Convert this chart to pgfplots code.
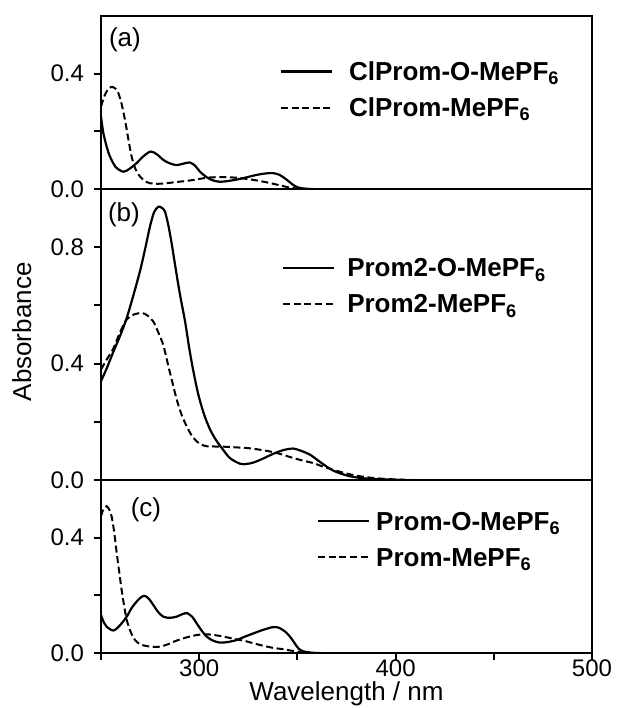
\documentclass[border=0pt]{standalone}
\usepackage{fontspec}
\setmainfont{Liberation Sans}
\usepackage{pgfplots}
\pgfplotsset{compat=1.18}
\pgfplotsset{
  panel/.style={
    scale only axis, width=245.5pt,
    xmin=250, xmax=500, ymin=0,
    axis line style={line width=1.4pt},
    tick align=outside, tick pos=left,
    major tick length=3.5pt, minor tick length=3.5pt,
    every tick/.style={black, line width=1pt},
    every minor tick/.style={black, line width=1pt},
    tick label style={font=\fontsize{12}{14}\selectfont},
    yticklabel style={xshift=-1.5pt, /pgf/number format/.cd, fixed, fixed zerofill, precision=1, assume math mode=true},
    xticklabel style={yshift=3.5pt, /pgf/number format/.cd, fixed, precision=0, assume math mode=true},
  },
  solidc/.style={black, line width=1.1pt, smooth, tension=0.5},
  dashc/.style={black, line width=1pt, dash pattern=on 3.5pt off 1.8pt, smooth, tension=0.5},
  leg/.style={
    legend image code/.code={\draw[##1] (0pt,0pt) -- (25.5pt,0pt);},
    legend cell align=left,
    legend style={draw=none, fill=none, inner sep=0pt, outer sep=0pt, anchor=west,
      font=\fontsize{13}{15.6}\selectfont\bfseries, row sep=4pt,
      nodes={inner sep=0pt, text height=11.5pt, text depth=2.5pt},
      /tikz/every odd column/.append style={column sep=#1}},
  },
}
\begin{document}
\begin{tikzpicture}
\useasboundingbox (0,0) rectangle (309.5pt,354pt);
% panel (a)
\begin{axis}[panel, at={(50.5pt,259.5pt)}, anchor=south west, height=86.5pt,
  ymax=0.6, ytick={0,0.4}, minor ytick={0.2}, xtick=\empty,
  leg=8pt, legend style={at={(axis cs:341.1,0.345)}}]
\addplot[solidc] coordinates {
(250,0.251) (251.2,0.194) (252.9,0.147) (254.6,0.112) (257.5,0.076) (261.4,0.060)
(264.5,0.070) (268,0.089) (271.5,0.113) (275.3,0.130) (278.5,0.120) (281.7,0.101)
(285,0.089) (288.5,0.083) (292,0.088) (295.3,0.092) (298,0.080) (300.4,0.060)
(304,0.040) (307,0.030) (310.6,0.025) (315,0.028) (320.8,0.035) (325,0.042)
(329.3,0.049) (334,0.054) (337.7,0.055) (340.5,0.050) (342.8,0.041) (345.5,0.027)
(347.9,0.014) (350.5,0.005) (354,0.001) (358,0)};
\addlegendentry{ClProm-O-MePF\textsubscript{6}}
\addplot[dashc] coordinates {
(250,0.286) (252,0.327) (254,0.349) (255.8,0.354) (257.5,0.347) (258.8,0.333)
(260.5,0.295) (262.2,0.240) (264,0.170) (265.6,0.112) (267.5,0.070) (269.9,0.043)
(272.5,0.027) (275,0.020) (279,0.018) (283.4,0.020) (288,0.024) (293.6,0.028)
(298.5,0.033) (303.8,0.039) (309,0.041) (314,0.041) (319,0.039) (324.2,0.035)
(329,0.030) (334.4,0.023) (339,0.016) (342.8,0.010) (346,0.005) (349.6,0.002) (355,0)};
\addlegendentry{ClProm-MePF\textsubscript{6}}
\node[font=\fontsize{13}{15.6}\selectfont] at (axis cs:262.2,0.517) {(a)};
\end{axis}
% panel (b)
\begin{axis}[panel, at={(50.5pt,114pt)}, anchor=south west, height=145.5pt,
  ymax=1.0, ytick={0,0.4,0.8}, minor ytick={0.2,0.6}, xtick=\empty,
  ylabel={Absorbance},
  ylabel style={at={(axis description cs:-0.161,0.509)}, anchor=center,
    font=\fontsize{13}{15.6}\selectfont},
  leg=6pt, legend style={at={(axis cs:342.2,0.667)}}]
\addplot[solidc] coordinates {
(250,0.340) (253,0.385) (256.3,0.441) (260,0.500) (263.1,0.557) (266.5,0.635)
(269.9,0.719) (272.5,0.795) (274.9,0.870) (277,0.920) (279.2,0.939) (281,0.935)
(282.6,0.922) (284.3,0.875) (286,0.812) (288,0.727) (290.2,0.638) (292.8,0.545)
(295,0.450) (297,0.375) (299.5,0.295) (302.5,0.225) (305.5,0.174) (308.5,0.138)
(311.5,0.110) (315.7,0.075) (320.8,0.056) (324,0.055) (327.6,0.060) (332,0.072)
(337.7,0.090) (343,0.103) (347.9,0.108) (352,0.100) (356.4,0.087) (360.5,0.067)
(364.9,0.046) (368,0.033) (371.7,0.023) (376,0.014) (380,0.009) (385,0.005)
(390,0.003) (398,0.001) (405,0)};
\addlegendentry{Prom2-O-MePF\textsubscript{6}}
\addplot[dashc] coordinates {
(250,0.380) (253,0.415) (256.3,0.452) (259.5,0.505) (263,0.551) (266.5,0.568)
(270.7,0.574) (273.5,0.566) (276.6,0.545) (279,0.510) (281.7,0.464) (284,0.400)
(286,0.345) (288.5,0.278) (291,0.225) (293.6,0.185) (296,0.155) (298.7,0.133)
(301,0.122) (303.8,0.116) (309,0.115) (314,0.114) (319,0.112) (324.2,0.110)
(330,0.105) (336,0.098) (341,0.090) (346.2,0.079) (352,0.068) (358.1,0.058)
(363,0.046) (368.3,0.035) (374,0.024) (380,0.015) (386,0.009) (392,0.005)
(400,0.002) (408,0)};
\addlegendentry{Prom2-MePF\textsubscript{6}}
\node[font=\fontsize{13}{15.6}\selectfont] at (axis cs:261.7,0.913) {(b)};
\end{axis}
% panel (c)
\begin{axis}[panel, at={(50.5pt,27.5pt)}, anchor=south west, height=86.5pt,
  ymax=0.6, ytick={0,0.4}, minor ytick={0.2},
  xtick={300,400,500}, minor xtick={250,350,450},
  xlabel={Wavelength / nm},
  xlabel style={at={(axis description cs:0.5,0)}, yshift=-23.5pt, anchor=base,
    font=\fontsize{13}{15.6}\selectfont},
  leg=3pt, legend style={at={(axis cs:360,0.394)}}]
\addplot[solidc] coordinates {
(250,0.132) (251.5,0.105) (252.9,0.091) (256.3,0.078) (259.5,0.095) (263.1,0.126)
(265.5,0.155) (268.1,0.178) (270.5,0.194) (272.4,0.198) (274.5,0.187) (276.6,0.167)
(279,0.143) (281.7,0.126) (285,0.122) (288.5,0.126) (291.5,0.135) (293.9,0.138)
(296.5,0.125) (298.7,0.103) (301,0.080) (303.8,0.057) (307,0.043) (310.6,0.036)
(314.5,0.038) (319.1,0.045) (323,0.056) (327.6,0.068) (332,0.079) (336.9,0.089)
(339,0.090) (341.1,0.086) (343.8,0.074) (346.2,0.057) (348.5,0.035) (350.5,0.016)
(353,0.006) (357,0.001) (361,0)};
\addlegendentry{Prom-O-MePF\textsubscript{6}}
\addplot[dashc] coordinates {
(250,0.474) (251.2,0.498) (252.9,0.509) (254.2,0.497) (255.4,0.474) (256.7,0.420)
(258,0.347) (259.3,0.280) (260.5,0.219) (261.8,0.163) (263.1,0.115) (265,0.075)
(267.3,0.045) (270,0.030) (273.3,0.024) (276.5,0.021) (280,0.022) (284,0.030)
(288.5,0.043) (293,0.053) (297,0.060) (300.5,0.064) (303.8,0.065) (308,0.062)
(312.3,0.057) (317,0.050) (322.5,0.043) (327.5,0.034) (332.6,0.025) (337.5,0.018)
(342.8,0.013) (347,0.008) (351,0.004) (356,0.001) (362,0)};
\addlegendentry{Prom-MePF\textsubscript{6}}
\node[font=\fontsize{13}{15.6}\selectfont] at (axis cs:272.9,0.496) {(c)};
\end{axis}
\end{tikzpicture}
\end{document}
